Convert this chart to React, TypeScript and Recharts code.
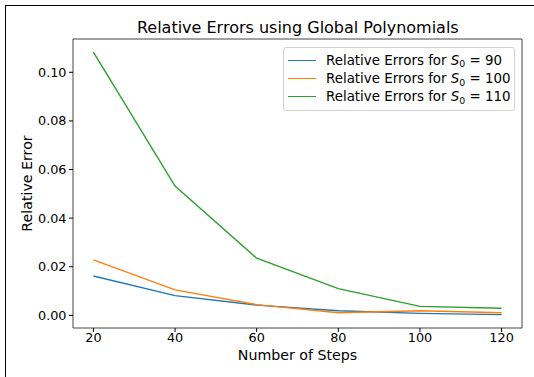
import { LineChart, Line, XAxis, YAxis, Legend, ReferenceArea, Label } from 'recharts';

// values
const steps = [20, 40, 60, 80, 100, 120];
const errS90 = [0.0162, 0.0081, 0.0042, 0.0019, 0.0008, 0.0003];
const errS100 = [0.0228, 0.0105, 0.0044, 0.0011, 0.0019, 0.0011];
const errS110 = [0.1083, 0.0532, 0.0235, 0.011, 0.0037, 0.0029];
const s0Values = [90, 100, 110];
const seriesKeys = ['s90', 's100', 's110'];
const seriesColors = ['#1f77b4', '#ff7f0e', '#2ca02c'];
const xTicks = [20, 40, 60, 80, 100, 120];
const yTicks = [0, 0.02, 0.04, 0.06, 0.08, 0.1];
const xDomain: [number, number] = [15, 125];
const yDomain: [number, number] = [-0.0052, 0.1137];

const FONT = '"DejaVu Sans", Verdana, sans-serif';

const data = steps.map((s, i) => ({
    steps: s,
    s90: errS90[i],
    s100: errS100[i],
    s110: errS110[i],
}));

function renderLegend(props: any) {
    // keep the plotting order, not the alphabetical one
    const payload = [...(props.payload || [])].sort(
        (a: any, b: any) => seriesKeys.indexOf(a.dataKey) - seriesKeys.indexOf(b.dataKey)
    );
    return (
        <div
            style={{
                border: '1px solid #d0d0d0',
                borderRadius: 3,
                background: 'rgba(255,255,255,0.8)',
                padding: '3px 0 4px 0',
                fontFamily: FONT,
                fontSize: 13.4,
                color: '#000',
            }}
        >
            {payload.map((entry: any, i: number) => (
                <div key={i} style={{ display: 'flex', alignItems: 'center', height: 18.3 }}>
                    <span
                        style={{
                            display: 'inline-block',
                            width: 28,
                            height: 0,
                            borderTop: `1.5px solid ${entry.color}`,
                            marginLeft: 4,
                            marginRight: 10,
                        }}
                    />
                    <span style={{ whiteSpace: 'nowrap' }}>
                        Relative Errors for <i>S</i>
                        <span style={{ fontSize: '0.7em', position: 'relative', top: '0.3em' }}>0</span> ={' '}
                        {s0Values[seriesKeys.indexOf(entry.dataKey)]}
                    </span>
                </div>
            ))}
        </div>
    );
}

export default function App() {
    return (
        <div style={{ position: 'absolute', left: 0, top: 0, width: 534, height: 377, background: '#fff' }}>
            <div
                style={{
                    position: 'absolute',
                    left: 5,
                    top: 5,
                    width: 529,
                    height: 372,
                    borderTop: '1px solid #000',
                    borderLeft: '1px solid #000',
                }}
            />
            <LineChart
                width={534}
                height={377}
                data={data}
                margin={{ top: 39, right: 12, bottom: 9, left: 13 }}
                style={{ position: 'absolute', left: 0, top: 0, fontFamily: FONT }}
            >
                <XAxis
                    dataKey="steps"
                    type="number"
                    domain={xDomain}
                    ticks={xTicks}
                    allowDataOverflow
                    height={40}
                    axisLine={false}
                    tickLine={{ stroke: '#000' }}
                    tickSize={4}
                    tickMargin={1}
                    tick={{ fill: '#000', fontSize: 12.8 }}
                >
                    <Label
                        content={(p: any) => {
                            const vb = p.viewBox || { x: 73, y: 328, width: 449 };
                            return (
                                <text
                                    x={vb.x + vb.width / 2}
                                    y={359.5}
                                    textAnchor="middle"
                                    fontSize={14.2}
                                    fill="#000"
                                    fontFamily={FONT}
                                >
                                    Number of Steps
                                </text>
                            );
                        }}
                    />
                </XAxis>
                <YAxis
                    type="number"
                    domain={yDomain}
                    ticks={yTicks}
                    allowDataOverflow
                    width={60}
                    axisLine={false}
                    tickLine={{ stroke: '#000' }}
                    tickSize={4}
                    tickMargin={2.5}
                    tickFormatter={(v: number) => v.toFixed(2)}
                    tick={{ fill: '#000', fontSize: 12.8 }}
                >
                    <Label
                        content={(p: any) => {
                            const vb = p.viewBox || { x: 13, y: 39, height: 289 };
                            const cy = vb.y + vb.height / 2;
                            return (
                                <text
                                    x={31.5}
                                    y={cy}
                                    transform={`rotate(-90, 31.5, ${cy})`}
                                    textAnchor="middle"
                                    fontSize={14.2}
                                    fill="#000"
                                    fontFamily={FONT}
                                >
                                    Relative Error
                                </text>
                            );
                        }}
                    />
                </YAxis>
                <ReferenceArea
                    x1={xDomain[0]}
                    x2={xDomain[1]}
                    y1={yDomain[0]}
                    y2={yDomain[1]}
                    fill="none"
                    stroke="#444"
                    strokeWidth={1}
                    ifOverflow="visible"
                />
                {seriesKeys.map((k, i) => (
                    <Line
                        key={k}
                        dataKey={k}
                        name={`Relative Errors for S0 = ${s0Values[i]}`}
                        stroke={seriesColors[i]}
                        strokeWidth={1.4}
                        dot={false}
                        type="linear"
                        isAnimationActive={false}
                    />
                ))}
                <Legend
                    layout="vertical"
                    align="center"
                    verticalAlign="middle"
                    content={renderLegend}
                    wrapperStyle={{ position: 'absolute', left: 283, top: 47, width: 232 }}
                />
            </LineChart>
            <svg
                width={534}
                height={40}
                style={{ position: 'absolute', left: 0, top: 0, pointerEvents: 'none' }}
            >
                <text x={297.8} y={32.5} textAnchor="middle" fontSize={16} fontFamily={FONT} fill="#000">
                    Relative Errors using Global Polynomials
                </text>
            </svg>
        </div>
    );
}
